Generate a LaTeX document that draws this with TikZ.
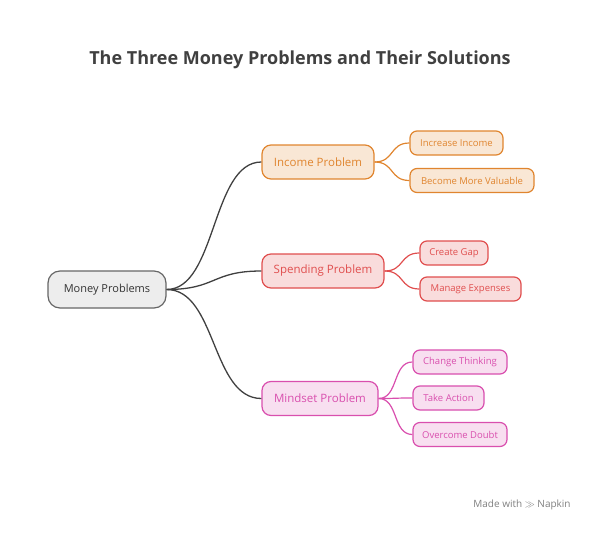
\documentclass[tikz,border=0pt]{standalone}
\usepackage{fontspec}
\setmainfont{Open Sans}
\definecolor{oc}{HTML}{E0852F}
\definecolor{rc}{HTML}{E04E4E}
\definecolor{pc}{HTML}{D94FAE}
\begin{document}
\begin{tikzpicture}[x=1pt,y=-1pt,
 base/.style={rounded corners=9pt,line width=1.2pt,minimum height=#1,inner xsep=0pt,anchor=center},
 root/.style={base=37pt,draw=gray!80!black,fill=gray!14,minimum width=118pt,font=\fontsize{11}{13}\selectfont,text=black!80,rounded corners=12pt},
 inc/.style={base=34pt,draw=oc,fill=oc!20,text=oc,font=\fontsize{11.5}{13}\selectfont},
 spd/.style={base=34pt,draw=rc,fill=rc!20,text=rc,font=\fontsize{11.5}{13}\selectfont},
 mnd/.style={base=34pt,draw=pc,fill=pc!18,text=pc,font=\fontsize{11.5}{13}\selectfont},
 inc2/.style={inc,base=24pt,font=\fontsize{9.5}{11}\selectfont,rounded corners=7pt},
 spd2/.style={spd,base=24pt,font=\fontsize{9.5}{11}\selectfont,rounded corners=7pt},
 mnd2/.style={mnd,base=24pt,font=\fontsize{9.5}{11}\selectfont,rounded corners=7pt},
 link/.style={line width=1.3pt,draw=black!75}]
\useasboundingbox (0,0) rectangle (600,533);
\node[font=\fontsize{18}{22}\selectfont\bfseries,text=black!75] (title) at (300,60) {The Three Money Problems and Their Solutions};
\node[root] (m) at (107,289.5) {Money Problems};
\node[inc,minimum width=112pt] (i) at (318,162) {Income Problem};
\node[spd,minimum width=122pt] (s) at (323,271) {Spending Problem};
\node[mnd,minimum width=116pt] (d) at (320,398.5) {Mindset Problem};
\node[inc2,minimum width=93pt] (i1) at (456.5,143) {Increase Income};
\node[inc2,minimum width=124pt] (i2) at (472,180.5) {Become More Valuable};
\node[spd2,minimum width=68pt] (s1) at (454,253) {Create Gap};
\node[spd2,minimum width=101pt] (s2) at (470.5,289) {Manage Expenses};
\node[mnd2,minimum width=94pt] (d1) at (460,362) {Change Thinking};
\node[mnd2,minimum width=71pt] (d2) at (448.5,398) {Take Action};
\node[mnd2,minimum width=94pt] (d3) at (460,434.5) {Overcome Doubt};
\foreach \t in {i,s,d}
 \draw[link] (m.east) .. controls +(50,0) and +(-50,0) .. (\t.west);
\foreach \t in {i1,i2} \draw[line width=1.2pt,draw=oc] (i.east) .. controls +(20,0) and +(-20,0) .. (\t.west);
\foreach \t in {s1,s2} \draw[line width=1.2pt,draw=rc] (s.east) .. controls +(20,0) and +(-20,0) .. (\t.west);
\foreach \t in {d1,d2,d3} \draw[line width=1.2pt,draw=pc] (d.east) .. controls +(20,0) and +(-20,0) .. (\t.west);
\node[font=\fontsize{10}{12}\selectfont,text=black!50] (f) at (522,505) {Made with $\gg$ Napkin};
\end{tikzpicture}
\end{document}
